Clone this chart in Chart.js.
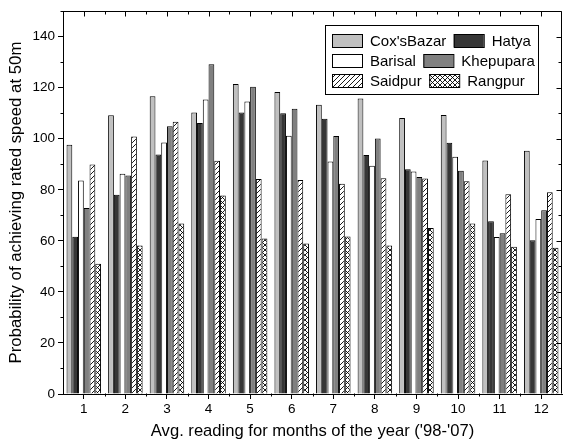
<!DOCTYPE html>
<html>
<head>
<meta charset="utf-8">
<script src="https://cdn.jsdelivr.net/npm/chart.js@4.4.1/dist/chart.umd.min.js"></script>
<style>
  html, body { margin: 0; padding: 0; background: #fff; }
  canvas { display: block; }
</style>
</head>
<body>
<canvas id="chart" width="564" height="444"></canvas>
<script>
// Monthly averages, 1998-2007
const months = ['1', '2', '3', '4', '5', '6', '7', '8', '9', '10', '11', '12'];
const stations = ["Cox'sBazar", 'Hatya', 'Barisal', 'Khepupara', 'Saidpur', 'Rangpur'];
const coxsBazar = [97.6, 109.2, 116.6, 110.3, 121.4, 118.3, 113.3, 115.8, 108.1, 109.3, 91.5, 95.3];
const hatya     = [61.6, 78.1, 93.8, 106.2, 110.3, 110.0, 107.8, 93.6, 88.0, 98.4, 67.7, 60.2];
const barisal   = [83.6, 86.3, 98.5, 115.4, 114.6, 101.2, 91.1, 89.4, 87.2, 92.9, 61.5, 68.6];
const khepupara = [72.9, 85.6, 104.9, 129.2, 120.4, 111.7, 101.1, 100.1, 85.0, 87.5, 63.0, 72.0];
const saidpur   = [89.9, 100.9, 106.7, 91.4, 84.2, 83.8, 82.4, 84.5, 84.4, 83.3, 78.3, 79.0];
const rangpur   = [51.0, 58.2, 66.8, 77.8, 60.9, 59.0, 61.7, 58.2, 65.0, 66.8, 57.7, 57.3];
const yTicks    = [0, 20, 40, 60, 80, 100, 120, 140];

const FONT = '"Liberation Sans", Arial, Helvetica, sans-serif';
Chart.defaults.font.family = FONT;
Chart.defaults.color = '#000';

const ctx = document.getElementById('chart').getContext('2d');

// Black-on-white hatch fills: '/' stripes and cross-hatch
function hatch(cross) {
  const s = 5;
  const c = document.createElement('canvas');
  c.width = s; c.height = s;
  const g = c.getContext('2d');
  g.fillStyle = '#fff';
  g.fillRect(0, 0, s, s);
  g.strokeStyle = '#000';
  g.lineWidth = 0.9;
  g.beginPath();
  g.moveTo(-1, s + 1); g.lineTo(s + 1, -1);
  if (cross) { g.moveTo(-1, -1); g.lineTo(s + 1, s + 1); }
  g.stroke();
  return ctx.createPattern(c, 'repeat');
}

const fills = ['#c0c0c0', '#363636', '#ffffff', '#808080', hatch(false), hatch(true)];
const series = [coxsBazar, hatya, barisal, khepupara, saidpur, rangpur];

const datasets = series.map((d, i) => ({
  label: stations[i],
  data: d,
  backgroundColor: fills[i],
  borderColor: '#000',
  borderWidth: 1,
  categoryPercentage: 0.83,
  barPercentage: 1.0
}));

// Frame, inward ticks on top/right, minor ticks
const frameTicks = {
  id: 'frameTicks',
  afterDraw(chart) {
    const { ctx, chartArea: a, scales: { x, y } } = chart;
    const L = Math.round(a.left) + 0.5, R = Math.round(a.right) - 0.5;
    const T = Math.round(a.top) + 0.5, B = Math.round(a.bottom) - 0.5;
    ctx.save();
    ctx.strokeStyle = '#000';
    ctx.lineWidth = 1;
    const seg = (x1, y1, x2, y2) => { ctx.beginPath(); ctx.moveTo(x1, y1); ctx.lineTo(x2, y2); ctx.stroke(); };
    seg(L, T, R, T);
    seg(R, T, R, B);
    // categories: major at centres, minor at boundaries
    const n = months.length;
    for (let i = 0; i < n; i++) {
      const px = Math.round(x.getPixelForValue(i)) + 0.5;
      seg(px, T, px, T + 5);
    }
    for (let i = 1; i < n; i++) {
      const px = Math.round(a.left + (a.right - a.left) * i / n) + 0.5;
      seg(px, T, px, T + 3);
      seg(px, B, px, B + 3);
    }
    // values: major every 20, minor every 10
    for (const v of yTicks) {
      const py = Math.round(y.getPixelForValue(v)) + 0.5;
      seg(R, py, R - 5, py);
    }
    for (let v = 10; v <= 150; v += 20) {
      const py = Math.round(y.getPixelForValue(v)) + 0.5;
      seg(L, py, L - 3, py);
      seg(R, py, R - 3, py);
    }
    ctx.restore();
  }
};

// Boxed legend, three rows of two entries
const boxLegend = {
  id: 'boxLegend',
  afterDraw(chart) {
    const { ctx } = chart;
    const bx = 325, by = 25, bw = 213, bh = 69;
    ctx.save();
    ctx.fillStyle = '#fff';
    ctx.fillRect(bx, by, bw, bh);
    ctx.strokeStyle = '#000';
    ctx.lineWidth = 1;
    ctx.strokeRect(bx + 0.5, by + 0.5, bw, bh);
    ctx.font = '15px ' + FONT;
    ctx.textBaseline = 'middle';
    ctx.textAlign = 'left';
    const sw = 30, sh = 13;
    for (let r = 0; r < 3; r++) {
      let px = 332;
      const cy = by + 16 + r * 20;
      for (let c = 0; c < 2; c++) {
        const k = r * 2 + c;
        const ds = chart.data.datasets[k];
        ctx.fillStyle = ds.backgroundColor;
        ctx.fillRect(px, cy - 7, sw, sh);
        ctx.strokeRect(px + 0.5, cy - 6.5, sw, sh);
        ctx.fillStyle = '#000';
        ctx.fillText(ds.label, px + 38, cy + 1);
        px += 38 + ctx.measureText(ds.label).width + 7.5;
      }
    }
    ctx.restore();
  }
};

new Chart(ctx, {
  type: 'bar',
  data: { labels: months, datasets },
  options: {
    responsive: false,
    animation: false,
    devicePixelRatio: 1,
    layout: { padding: { top: 9, right: 2, left: 0, bottom: 0 } },
    plugins: {
      legend: { display: false },
      tooltip: { enabled: false }
    },
    scales: {
      x: {
        grid: { display: true, drawOnChartArea: false, drawTicks: true, tickLength: 5, offset: false, color: '#000' },
        border: { display: true, color: '#000', width: 1 },
        ticks: { font: { size: 13.5 }, padding: 2, maxRotation: 0 },
        title: { display: true, text: "Avg. reading for months of the year ('98-'07)", font: { size: 16.6 }, padding: { bottom: 3, top: 0 } },
        afterFit(s) { s.height = 50; }
      },
      y: {
        min: 0,
        max: 150,
        grid: { display: true, drawOnChartArea: false, drawTicks: true, tickLength: 5, color: '#000' },
        border: { display: true, color: '#000', width: 1 },
        ticks: { stepSize: 20, font: { size: 13.5 }, padding: 3 },
        afterBuildTicks(s) { s.ticks = yTicks.map(v => ({ value: v })); },
        title: { display: true, text: 'Probability of achieving rated speed at 50m', font: { size: 16.8 }, padding: { top: 6, bottom: 0 } },
        afterFit(s) { s.width = 63; }
      }
    }
  },
  plugins: [frameTicks, boxLegend]
});
</script>
</body>
</html>
